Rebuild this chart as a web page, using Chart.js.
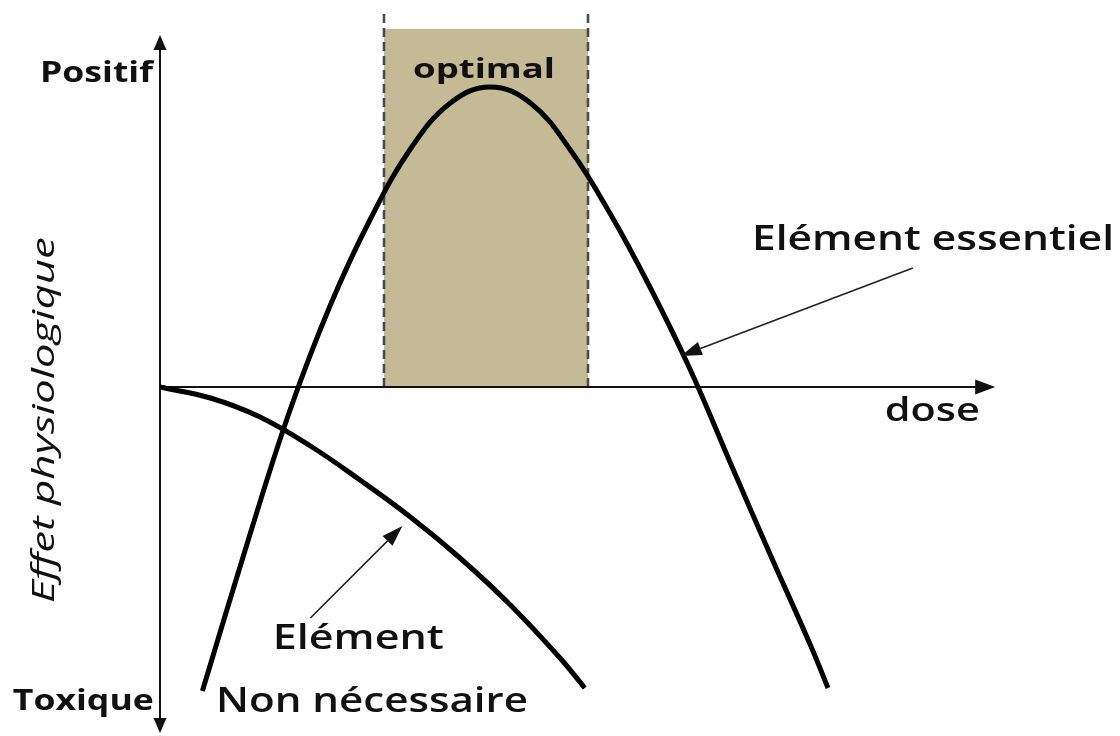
<!DOCTYPE html>
<html>
<head>
<meta charset="utf-8">
<script src="https://cdn.jsdelivr.net/npm/chart.js@4.4.1/dist/chart.umd.min.js"></script>
<style>
    html, body { margin: 0; padding: 0; background: #fff; }
    #wrap { width: 1120px; height: 736px; position: relative; }
</style>
</head>
<body>
<div id="wrap"><canvas id="chart"></canvas></div>
<script>
// Dose (x) and physiological effect (y)
const essentialDose   = [0.53, 1.13, 1.63, 2.13, 2.63, 3.13, 3.63, 4.13, 4.63, 5.13, 5.63, 6.13, 6.63, 7.13, 7.63, 8.13, 8.35];
const essentialEffect = [-3.04, -1.46, -0.22, 0.82, 1.68, 2.38, 2.84, 3.00, 2.84, 2.37, 1.73, 0.99, 0.17, -0.76, -1.68, -2.58, -3.01];

const uselessDose   = [0, 0.63, 1.25, 1.88, 2.50, 3.13, 3.75, 4.38, 5.00, 5.31];
const uselessEffect = [0, -0.11, -0.30, -0.59, -0.93, -1.30, -1.71, -2.18, -2.71, -3.01];

// Optimal zone (dose range) and its top
const optimalRange = [2.80, 5.35];
const optimalTop = 3.58;

// Texts
const axisLabels = ["Positif", "Toxique", "dose", "Effet physiologique"];
const curveLabels = ["optimal", "Elément essentiel", "Elément", "Non nécessaire"];

const toPoints = (xs, ys) => xs.map((v, i) => ({ x: v, y: ys[i] }));

// Draws a filled arrow head with its tip at (x2, y2)
function arrowHead(ctx, x1, y1, x2, y2, len, width) {
    const a = Math.atan2(y2 - y1, x2 - x1);
    ctx.save();
    ctx.translate(x2, y2);
    ctx.rotate(a);
    ctx.beginPath();
    ctx.moveTo(0, 0);
    ctx.lineTo(-len, width / 2);
    ctx.lineTo(-len, -width / 2);
    ctx.closePath();
    ctx.fill();
    ctx.restore();
}

// Arrow with thin shaft, shaft stops at head base
function arrow(ctx, x1, y1, x2, y2, len, width, lw) {
    const d = Math.hypot(x2 - x1, y2 - y1);
    const bx = x2 - (x2 - x1) * len / d;
    const by = y2 - (y2 - y1) * len / d;
    ctx.lineWidth = lw;
    ctx.beginPath();
    ctx.moveTo(x1, y1);
    ctx.lineTo(bx, by);
    ctx.stroke();
    arrowHead(ctx, x1, y1, x2, y2, len, width);
}

// Text squeezed horizontally to the given width (Calibri look-alike)
function label(ctx, text, x, y, size, width, opts = {}) {
    ctx.save();
    ctx.font = `${opts.style || "normal"} ${opts.weight || "600"} ${size}px "Open Sans"`;
    ctx.textBaseline = opts.baseline || "alphabetic";
    ctx.textAlign = "left";
    const w = ctx.measureText(text).width;
    ctx.translate(x, y);
    if (opts.rotate) ctx.rotate(opts.rotate);
    ctx.scale(width / w, 1);
    const dx = opts.align === "center" ? -w / 2 : 0;
    ctx.fillText(text, dx, 0);
    ctx.restore();
}

const annotations = {
    id: "annotations",
    afterDatasetsDraw(chart) {
        const { ctx, scales: { x, y } } = chart;
        const px = v => x.getPixelForValue(v);
        const py = v => y.getPixelForValue(v);
        ctx.save();
        ctx.fillStyle = "#111";
        ctx.strokeStyle = "#111";

        // axis arrow heads
        arrowHead(ctx, px(0), py(0), px(0), py(3.52), 15, 13);
        arrowHead(ctx, px(0), py(0), px(0), py(-3.46), 15, 13);
        arrowHead(ctx, px(0), py(0), px(10.44), py(0), 20, 15);

        // callout arrows
        ctx.strokeStyle = "#222";
        ctx.fillStyle = "#111";
        arrow(ctx, px(9.41), py(1.19), px(6.51), py(0.31), 21, 14, 1.6);
        arrow(ctx, px(1.88), py(-2.31), px(3.03), py(-1.39), 21, 14, 1.6);

        // texts
        ctx.fillStyle = "#111";
        label(ctx, axisLabels[0], px(-1.5), py(3.05), 28, 113, { weight: "bold" });
        label(ctx, axisLabels[1], px(-1.84), py(-3.23), 28, 141, { weight: "bold" });
        label(ctx, axisLabels[2], px(9.06), py(-0.34), 33, 95);
        label(ctx, axisLabels[3], px(-1.44), py(-0.33), 31, 366,
            { style: "italic", weight: "normal", rotate: -Math.PI / 2, align: "center", baseline: "middle" });
        label(ctx, curveLabels[0], px(4.05), py(3.09), 26, 142, { weight: "bold", align: "center" });
        label(ctx, curveLabels[1], px(7.4), py(1.37), 34, 362);
        label(ctx, curveLabels[2], px(1.41), py(-2.62), 34, 171);
        label(ctx, curveLabels[3], px(0.7), py(-3.25), 34, 312);
        ctx.restore();
    }
};

const line = (data, extra) => Object.assign({
    data, showLine: true, pointRadius: 0, fill: false,
    borderColor: "#000", borderWidth: 5
}, extra);

new Chart(document.getElementById("chart"), {
    type: "scatter",
    data: {
        datasets: [
            // optimal zone
            line(toPoints(optimalRange, [optimalTop, optimalTop]),
                { fill: "origin", backgroundColor: "#c5ba96", borderWidth: 0, order: 6 }),
            // dashed limits
            line(toPoints([optimalRange[0], optimalRange[0]], [0, 3.74]),
                { borderColor: "#4a4a4a", borderWidth: 2.6, borderDash: [9, 5], order: 5 }),
            line(toPoints([optimalRange[1], optimalRange[1]], [0, 3.74]),
                { borderColor: "#4a4a4a", borderWidth: 2.6, borderDash: [9, 5], order: 5 }),
            // axes
            line(toPoints([0, 0], [-3.31, 3.38]), { borderColor: "#111", borderWidth: 2, order: 4 }),
            line(toPoints([0, 10.2], [0, 0]), { borderColor: "#111", borderWidth: 2, order: 4 }),
            // curves
            line(toPoints(essentialDose, essentialEffect), { tension: 0.4, order: 1 }),
            line(toPoints(uselessDose, uselessEffect), { tension: 0.4, order: 1 })
        ]
    },
    options: {
        responsive: true,
        maintainAspectRatio: false,
        animation: false,
        events: [],
        layout: { padding: 0 },
        plugins: { legend: { display: false }, tooltip: { enabled: false } },
        scales: {
            x: { type: "linear", min: -2, max: 12, display: false },
            y: { type: "linear", min: -3.49, max: 3.87, display: false }
        }
    },
    plugins: [annotations]
});
</script>
</body>
</html>
